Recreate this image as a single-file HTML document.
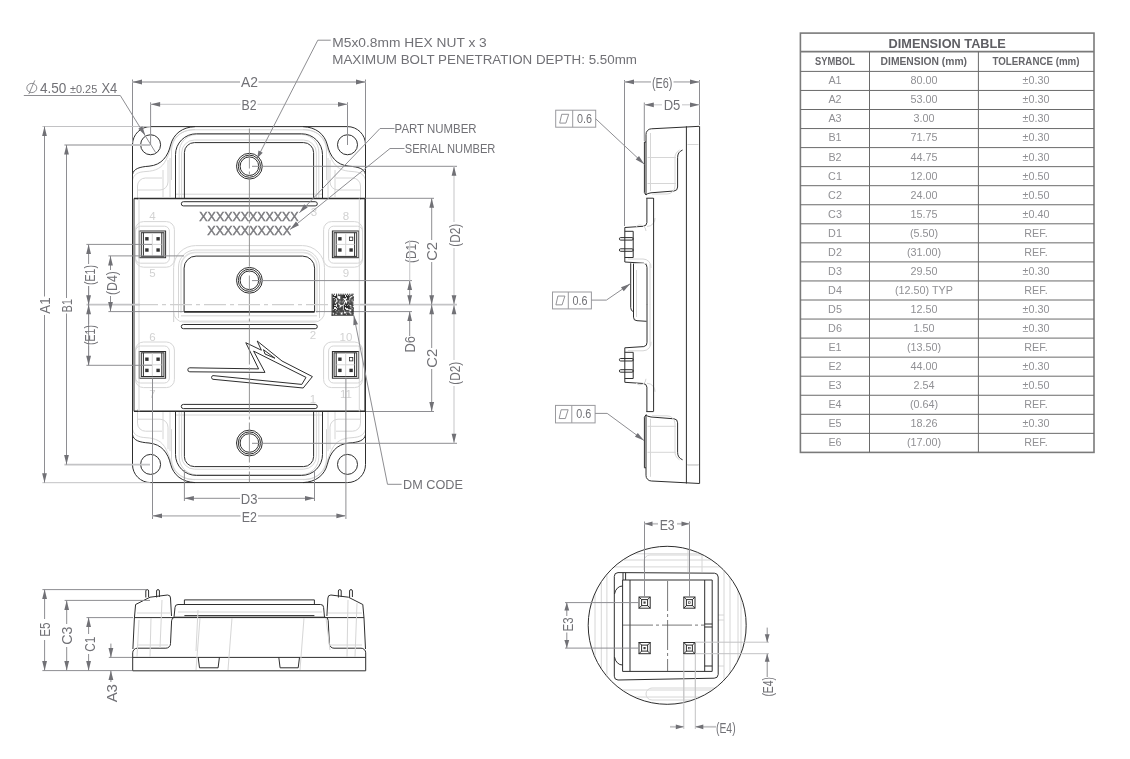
<!DOCTYPE html>
<html><head><meta charset="utf-8"><title>Drawing</title><style>
html,body{margin:0;padding:0;background:#fff;}
body{width:1130px;height:759px;overflow:hidden;}
svg{display:block;will-change:transform;}
text{font-family:"Liberation Sans",sans-serif;}
.k{fill:none;stroke:#2e2e2e;stroke-width:1;}
.k2{fill:none;stroke:#2e2e2e;stroke-width:1.6;}
.l{fill:none;stroke:#d6d6d6;stroke-width:1;}
.l2{fill:none;stroke:#e2e2e2;stroke-width:1.5;}
.d{fill:none;stroke:#8e8e92;stroke-width:1;}
.e{fill:none;stroke:#c2c2c4;stroke-width:1;}
.d2{fill:none;stroke:#c4c4c6;stroke-width:1.8;}
.d3{fill:none;stroke:#cfcfd1;stroke-width:1.2;}
.cl{fill:none;stroke:#8a8a8a;stroke-width:0.9;stroke-dasharray:40 3 3 3;}
.cl2{fill:none;stroke:#cfcfcf;stroke-width:1.4;stroke-dasharray:22 4 4 4;}
.cld{fill:none;stroke:#555;stroke-width:0.8;stroke-dasharray:30 3 3 3;}
.ar{fill:#717176;stroke:none;}
.t{fill:#717176;}
.pn{fill:#d2d2d2;}
.tx{fill:#7a7a7e;stroke:#7a7a7e;stroke-width:0.45;}
.fb{fill:none;stroke:#9a9a9e;stroke-width:1;}
.fsym{fill:none;stroke:#88888c;stroke-width:0.9;}
.tb{fill:none;stroke:#6a6a6a;stroke-width:1;}
.tb2{fill:none;stroke:#7a7a7a;stroke-width:1.6;}
.th{fill:#5f5f64;font-weight:bold;}
.th2{fill:#66666a;font-weight:bold;}
.tr{fill:#909094;}
</style></head>
<body><svg width="1130" height="759" viewBox="0 0 1130 759">
<rect x="0" y="0" width="1130" height="759" fill="#fff"/>
<path class="l" d="M132.5,180 C134,174 138,172 146,171.5 C156,171 162,168 166,160 C169,154 170,150 172,144 C175,136 182,130 195,129.5"/><path class="l" d="M137.5,200 V186 A8,8 0 0 1 145.5,178 H162 M137.5,186"/><path class="l" d="M163,197 V170 M170,197 V158"/><path class="l" d="M137,190 H160 A8 8 0 0 0 168,182 V160"/><path class="k" d="M195,126.6 C182,127.2 173.5,134 170.6,145 C168,156 162,165 149,166.2 C140,166.8 133.5,168.5 132.5,174.5"/><path class="l" d="M179.2,198 V152 A17.5,17.5 0 0 1 196.7,134.5 H249"/><path class="l" d="M181.6,198 V153 A13,13 0 0 1 194.6,140 H249"/><path class="l" d="M171.5,180 V150 A21,21 0 0 1 192.5,129.8 H249"/><path class="l" d="M176,194.2 H249"/><path class="k" d="M175.5,198.2 V154.6 A20.8,20.8 0 0 1 196.3,133.8 H249"/><path class="k" d="M184.4,198.2 V152.6 A10,10 0 0 1 194.4,142.6 H249"/><rect class="l" x="135.5" y="221.6" width="38.9" height="45.6" rx="8"/><rect class="l" x="135.5" y="226.2" width="33.9" height="37" rx="5"/><rect class="k" x="139.2" y="231" width="26.4" height="26.7"/><rect class="k" x="141.3" y="232.7" width="22.6" height="23.7"/><path class="k" d="M143.4,232.7 V256.4 M161.8,232.7 V256.4"/><path class="l" stroke="#bbb" d="M152.3,233 V256 M143.5,244.4 H161.5"/><rect x="145.2" y="237.1" width="3.4" height="3.4" fill="#333"/><rect x="145.2" y="248.3" width="3.4" height="3.4" fill="#333"/><rect x="156.4" y="237.1" width="3.4" height="3.4" fill="#333"/><rect x="156.4" y="248.3" width="3.4" height="3.4" fill="#333"/>
<g transform="translate(498,0) scale(-1,1)"><path class="l" d="M132.5,180 C134,174 138,172 146,171.5 C156,171 162,168 166,160 C169,154 170,150 172,144 C175,136 182,130 195,129.5"/><path class="l" d="M137.5,200 V186 A8,8 0 0 1 145.5,178 H162 M137.5,186"/><path class="l" d="M163,197 V170 M170,197 V158"/><path class="l" d="M137,190 H160 A8 8 0 0 0 168,182 V160"/><path class="k" d="M195,126.6 C182,127.2 173.5,134 170.6,145 C168,156 162,165 149,166.2 C140,166.8 133.5,168.5 132.5,174.5"/><path class="l" d="M179.2,198 V152 A17.5,17.5 0 0 1 196.7,134.5 H249"/><path class="l" d="M181.6,198 V153 A13,13 0 0 1 194.6,140 H249"/><path class="l" d="M171.5,180 V150 A21,21 0 0 1 192.5,129.8 H249"/><path class="l" d="M176,194.2 H249"/><path class="k" d="M175.5,198.2 V154.6 A20.8,20.8 0 0 1 196.3,133.8 H249"/><path class="k" d="M184.4,198.2 V152.6 A10,10 0 0 1 194.4,142.6 H249"/><rect class="l" x="135.5" y="221.6" width="38.9" height="45.6" rx="8"/><rect class="l" x="135.5" y="226.2" width="33.9" height="37" rx="5"/><rect class="k" x="139.2" y="231" width="26.4" height="26.7"/><rect class="k" x="141.3" y="232.7" width="22.6" height="23.7"/><path class="k" d="M143.4,232.7 V256.4 M161.8,232.7 V256.4"/><path class="l" stroke="#bbb" d="M152.3,233 V256 M143.5,244.4 H161.5"/><rect x="145.2" y="237.1" width="3.4" height="3.4" fill="#333"/><rect x="145.2" y="248.3" width="3.4" height="3.4" fill="#333"/><rect x="156.4" y="237.1" width="3.4" height="3.4" fill="#333"/><rect x="156.4" y="248.3" width="3.4" height="3.4" fill="#333"/></g>
<g transform="translate(0,609.2) scale(1,-1)"><path class="l" d="M132.5,180 C134,174 138,172 146,171.5 C156,171 162,168 166,160 C169,154 170,150 172,144 C175,136 182,130 195,129.5"/><path class="l" d="M137.5,200 V186 A8,8 0 0 1 145.5,178 H162 M137.5,186"/><path class="l" d="M163,197 V170 M170,197 V158"/><path class="l" d="M137,190 H160 A8 8 0 0 0 168,182 V160"/><path class="k" d="M195,126.6 C182,127.2 173.5,134 170.6,145 C168,156 162,165 149,166.2 C140,166.8 133.5,168.5 132.5,174.5"/><path class="l" d="M179.2,198 V152 A17.5,17.5 0 0 1 196.7,134.5 H249"/><path class="l" d="M181.6,198 V153 A13,13 0 0 1 194.6,140 H249"/><path class="l" d="M171.5,180 V150 A21,21 0 0 1 192.5,129.8 H249"/><path class="l" d="M176,194.2 H249"/><path class="k" d="M175.5,198.2 V154.6 A20.8,20.8 0 0 1 196.3,133.8 H249"/><path class="k" d="M184.4,198.2 V152.6 A10,10 0 0 1 194.4,142.6 H249"/><rect class="l" x="135.5" y="221.6" width="38.9" height="45.6" rx="8"/><rect class="l" x="135.5" y="226.2" width="33.9" height="37" rx="5"/><rect class="k" x="139.2" y="231" width="26.4" height="26.7"/><rect class="k" x="141.3" y="232.7" width="22.6" height="23.7"/><path class="k" d="M143.4,232.7 V256.4 M161.8,232.7 V256.4"/><path class="l" stroke="#bbb" d="M152.3,233 V256 M143.5,244.4 H161.5"/><rect x="145.2" y="237.1" width="3.4" height="3.4" fill="#333"/><rect x="145.2" y="248.3" width="3.4" height="3.4" fill="#333"/><rect x="156.4" y="237.1" width="3.4" height="3.4" fill="#333"/><rect x="156.4" y="248.3" width="3.4" height="3.4" fill="#333"/></g>
<g transform="translate(0,609.2) scale(1,-1)"><g transform="translate(498,0) scale(-1,1)"><path class="l" d="M132.5,180 C134,174 138,172 146,171.5 C156,171 162,168 166,160 C169,154 170,150 172,144 C175,136 182,130 195,129.5"/><path class="l" d="M137.5,200 V186 A8,8 0 0 1 145.5,178 H162 M137.5,186"/><path class="l" d="M163,197 V170 M170,197 V158"/><path class="l" d="M137,190 H160 A8 8 0 0 0 168,182 V160"/><path class="k" d="M195,126.6 C182,127.2 173.5,134 170.6,145 C168,156 162,165 149,166.2 C140,166.8 133.5,168.5 132.5,174.5"/><path class="l" d="M179.2,198 V152 A17.5,17.5 0 0 1 196.7,134.5 H249"/><path class="l" d="M181.6,198 V153 A13,13 0 0 1 194.6,140 H249"/><path class="l" d="M171.5,180 V150 A21,21 0 0 1 192.5,129.8 H249"/><path class="l" d="M176,194.2 H249"/><path class="k" d="M175.5,198.2 V154.6 A20.8,20.8 0 0 1 196.3,133.8 H249"/><path class="k" d="M184.4,198.2 V152.6 A10,10 0 0 1 194.4,142.6 H249"/><rect class="l" x="135.5" y="221.6" width="38.9" height="45.6" rx="8"/><rect class="l" x="135.5" y="226.2" width="33.9" height="37" rx="5"/><rect class="k" x="139.2" y="231" width="26.4" height="26.7"/><rect class="k" x="141.3" y="232.7" width="22.6" height="23.7"/><path class="k" d="M143.4,232.7 V256.4 M161.8,232.7 V256.4"/><path class="l" stroke="#bbb" d="M152.3,233 V256 M143.5,244.4 H161.5"/><rect x="145.2" y="237.1" width="3.4" height="3.4" fill="#333"/><rect x="145.2" y="248.3" width="3.4" height="3.4" fill="#333"/><rect x="156.4" y="237.1" width="3.4" height="3.4" fill="#333"/><rect x="156.4" y="248.3" width="3.4" height="3.4" fill="#333"/></g></g>
<path class="k" d="M150.6,126.6 H347.5 A18,18 0 0 1 365.5,144.6 V464.6 A18,18 0 0 1 347.5,482.6 H150.6 A18,18 0 0 1 132.5,464.6 V144.6 A18,18 0 0 1 150.6,126.6 Z"/>
<circle class="k" cx="150.6" cy="144.75" r="10"/>
<circle class="k" cx="347.5" cy="144.75" r="10"/>
<circle class="k" cx="150.6" cy="464.4" r="10"/>
<circle class="k" cx="347.5" cy="464.4" r="10"/>
<path class="k2" d="M134,198.5 H365.3 M134,411.3 H365.3"/>
<path class="k" d="M134,198.5 V411.3"/>
<path class="k2" d="M365.2,198.5 V411.3"/>
<path class="l" d="M359.3,198.5 V411.3 M139,198.5 V411.3"/>
<path class="l" d="M173.6,322 V267.6 A22,22 0 0 1 195.6,245.6 H302.5 A22,22 0 0 1 324.5,267.6 V312 A10,10 0 0 1 314.5,322 H183.6 A10,10 0 0 1 173.6,312 Z"/>
<path class="l" d="M178.5,318 V267 A17,17 0 0 1 195.5,250 H302.5 A17,17 0 0 1 319.5,267 V318"/>
<path class="l2" d="M181,313 V266 A14,14 0 0 1 195,252.6 H303 A14,14 0 0 1 317,266 V313 M181,315.7 H317 M181,321.3 H317"/>
<path class="k" d="M184.1,311.9 V268.1 A12,12 0 0 1 196.1,256.1 H302.6 A12,12 0 0 1 314.6,268.1 V311.9"/>
<path class="k2" d="M184.1,311.9 H314.6"/>
<circle class="k" cx="249.4" cy="166.2" r="12.9" stroke-width="0.9"/>
<circle class="k" cx="249.4" cy="166.2" r="11.1" stroke-width="0.9"/>
<circle class="k" cx="249.4" cy="166.2" r="9.3" stroke-width="1.3"/>
<path d="M239.2,166.2 A10.2,10.2 0 0 1 249.4,156" fill="none" stroke="#888" stroke-width="1" stroke-dasharray="0.6 1.2"/>
<circle class="k" cx="249.4" cy="280.3" r="12.9" stroke-width="0.9"/>
<circle class="k" cx="249.4" cy="280.3" r="11.1" stroke-width="0.9"/>
<circle class="k" cx="249.4" cy="280.3" r="9.3" stroke-width="1.3"/>
<path d="M239.2,280.3 A10.2,10.2 0 0 1 249.4,270.1" fill="none" stroke="#888" stroke-width="1" stroke-dasharray="0.6 1.2"/>
<circle class="k" cx="249.4" cy="443.0" r="12.9" stroke-width="0.9"/>
<circle class="k" cx="249.4" cy="443.0" r="11.1" stroke-width="0.9"/>
<circle class="k" cx="249.4" cy="443.0" r="9.3" stroke-width="1.3"/>
<path d="M239.2,443 A10.2,10.2 0 0 1 249.4,432.8" fill="none" stroke="#888" stroke-width="1" stroke-dasharray="0.6 1.2"/>
<rect class="k" x="181.3" y="201.7" width="136" height="4.2" rx="2.1"/>
<rect class="k" x="181.3" y="324.5" width="136" height="4.2" rx="2.1"/>
<rect class="k" x="181.3" y="404.4" width="136" height="4.2" rx="2.1"/>
<rect x="349.4" y="237.1" width="3.4" height="3.4" fill="#fff" stroke="#333" stroke-width="0.8"/>
<rect x="349.4" y="357.5" width="3.4" height="3.4" fill="#fff" stroke="#333" stroke-width="0.8"/>
<path class="k" d="M189.8,367.8 L258.6,368.9 L245.8,342.7 L261.4,350.2 L257.2,341 L282,361 L312.4,376.6 L303.2,388 L213,379.3 A1.9,1.9 0 0 1 213,375.6 L301.8,384.4 L306,377.4 L253.6,351.1 L265,372.4 L189.8,371.8 A2,2 0 0 1 189.8,367.8 Z"/>
<path class="k" d="M263.5,349.7 L274.9,358.2 L265,354 Z"/>
<text x="152.5" y="220" font-size="11.5" text-anchor="middle" class="pn">4</text>
<text x="152.5" y="277" font-size="11.5" text-anchor="middle" class="pn">5</text>
<text x="152.5" y="340.5" font-size="11.5" text-anchor="middle" class="pn">6</text>
<text x="152.5" y="398" font-size="11.5" text-anchor="middle" class="pn">7</text>
<text x="345.9" y="220" font-size="11.5" text-anchor="middle" class="pn">8</text>
<text x="345.9" y="277" font-size="11.5" text-anchor="middle" class="pn">9</text>
<text x="345.9" y="340.5" font-size="11.5" text-anchor="middle" class="pn">10</text>
<text x="345.9" y="398" font-size="11.5" text-anchor="middle" class="pn">11</text>
<text x="314" y="216" font-size="11.5" text-anchor="middle" class="pn">3</text>
<text x="313" y="339" font-size="11.5" text-anchor="middle" class="pn">2</text>
<text x="313" y="402.5" font-size="11.5" text-anchor="middle" class="pn">1</text>
<text x="249" y="220.8" font-size="12.4" text-anchor="middle" class="tx" textLength="99.3" lengthAdjust="spacingAndGlyphs">XXXXXXXXXXXX</text>
<text x="249.2" y="234.5" font-size="12.4" text-anchor="middle" class="tx" textLength="83.7" lengthAdjust="spacingAndGlyphs">XXXXXXXXXX</text>
<path class="cl" d="M249.4,128.5 V482.5"/>
<path class="cl2" d="M136,304.6 H360"/>
<line x1="132.5" y1="79.5" x2="132.5" y2="143" class="d" />
<line x1="365.5" y1="79.5" x2="365.5" y2="143" class="d" />
<line x1="132.5" y1="82" x2="240" y2="82" class="d2" />
<line x1="258.5" y1="82" x2="365.5" y2="82" class="d2" />
<polygon points="132.5,82 142,79.6 142,84.4" class="ar"/>
<polygon points="365.5,82 356,84.4 356,79.6" class="ar"/>
<text x="249.5" y="86.9" font-size="14.2" text-anchor="middle" class="t" textLength="17" lengthAdjust="spacingAndGlyphs">A2</text>
<line x1="150.6" y1="102.3" x2="150.6" y2="145" class="d" />
<line x1="347.5" y1="102.3" x2="347.5" y2="145" class="d" />
<line x1="150.6" y1="104.3" x2="240.5" y2="104.3" class="d3" />
<line x1="257.5" y1="104.3" x2="347.5" y2="104.3" class="d3" />
<polygon points="150.6,104.3 160.1,101.9 160.1,106.7" class="ar"/>
<polygon points="347.5,104.3 338,106.7 338,101.9" class="ar"/>
<text x="249" y="110" font-size="14.2" text-anchor="middle" class="t" textLength="15" lengthAdjust="spacingAndGlyphs">B2</text>
<line x1="42.4" y1="126.5" x2="150" y2="126.5" class="e" />
<line x1="42.4" y1="482.7" x2="150" y2="482.7" class="e" />
<line x1="44.5" y1="126.5" x2="44.5" y2="296.5" class="d" />
<line x1="44.5" y1="315" x2="44.5" y2="482.7" class="d" />
<polygon points="44.5,126.5 46.9,136 42.1,136" class="ar"/>
<polygon points="44.5,482.7 42.1,473.2 46.9,473.2" class="ar"/>
<text x="50.2" y="305.6" font-size="14.2" text-anchor="middle" class="t" textLength="16.3" lengthAdjust="spacingAndGlyphs" transform="rotate(-90 50.2 305.6)">A1</text>
<line x1="64.4" y1="145" x2="150" y2="145" class="d2" />
<line x1="64.4" y1="464.6" x2="150" y2="464.6" class="d2" />
<line x1="66.5" y1="145" x2="66.5" y2="298" class="d" />
<line x1="66.5" y1="313.5" x2="66.5" y2="464.6" class="d" />
<polygon points="66.5,145 68.9,154.5 64.1,154.5" class="ar"/>
<polygon points="66.5,464.6 64.1,455.1 68.9,455.1" class="ar"/>
<text x="72" y="305.7" font-size="14.2" text-anchor="middle" class="t" textLength="13" lengthAdjust="spacingAndGlyphs" transform="rotate(-90 72 305.7)">B1</text>
<line x1="86.4" y1="244.4" x2="152" y2="244.4" class="d" />
<line x1="86.4" y1="365.3" x2="152" y2="365.3" class="d" />
<line x1="86.5" y1="304.7" x2="140" y2="304.7" class="d2" />
<line x1="88.6" y1="244.4" x2="88.6" y2="264" class="d" />
<line x1="88.6" y1="286" x2="88.6" y2="365.3" class="d" />
<line x1="88.6" y1="286" x2="88.6" y2="324" class="d" />
<line x1="88.6" y1="346" x2="88.6" y2="365.3" class="d" />
<polygon points="88.6,244.4 91,253.9 86.2,253.9" class="ar"/>
<polygon points="88.6,304.7 86.2,295.2 91,295.2" class="ar"/>
<polygon points="88.6,304.7 91,314.2 86.2,314.2" class="ar"/>
<polygon points="88.6,365.3 86.2,355.8 91,355.8" class="ar"/>
<text x="95.2" y="275" font-size="14" text-anchor="middle" class="t" textLength="20" lengthAdjust="spacingAndGlyphs" transform="rotate(-90 95.2 275)">(E1)</text>
<text x="95.2" y="335" font-size="14" text-anchor="middle" class="t" textLength="20" lengthAdjust="spacingAndGlyphs" transform="rotate(-90 95.2 335)">(E1)</text>
<line x1="108.4" y1="255.9" x2="184" y2="255.9" class="d" />
<line x1="108.4" y1="311.6" x2="184" y2="311.6" class="d" />
<line x1="110.5" y1="255.9" x2="110.5" y2="270" class="d" />
<line x1="110.5" y1="296" x2="110.5" y2="311.6" class="d" />
<polygon points="110.5,255.9 112.9,265.4 108.1,265.4" class="ar"/>
<polygon points="110.5,311.6 108.1,302.1 112.9,302.1" class="ar"/>
<text x="117.2" y="283" font-size="14" text-anchor="middle" class="t" textLength="24" lengthAdjust="spacingAndGlyphs" transform="rotate(-90 117.2 283)">(D4)</text>
<line x1="252" y1="166.3" x2="457" y2="166.3" class="d" />
<line x1="365.5" y1="198.3" x2="434" y2="198.3" class="d" />
<line x1="252" y1="280.6" x2="412" y2="280.6" class="d" />
<line x1="360" y1="304.7" x2="457" y2="304.7" class="d2" />
<line x1="316" y1="311.6" x2="412" y2="311.6" class="d" />
<line x1="366" y1="411.5" x2="434" y2="411.5" class="d" />
<line x1="252" y1="443.3" x2="457" y2="443.3" class="d" />
<line x1="409.7" y1="280.6" x2="409.7" y2="304.7" class="d" />
<polygon points="409.7,280.6 412.1,290.1 407.3,290.1" class="ar"/>
<polygon points="409.7,304.7 407.3,295.2 412.1,295.2" class="ar"/>
<text x="416.2" y="251.5" font-size="14" text-anchor="middle" class="t" textLength="23" lengthAdjust="spacingAndGlyphs" transform="rotate(-90 416.2 251.5)">(D1)</text>
<line x1="409.7" y1="240" x2="409.7" y2="280.6" class="d3" />
<line x1="409.7" y1="311.5" x2="409.7" y2="336" class="d" />
<polygon points="409.7,311.5 412.1,321 407.3,321" class="ar"/>
<text x="415" y="344.3" font-size="14" text-anchor="middle" class="t" textLength="16.5" lengthAdjust="spacingAndGlyphs" transform="rotate(-90 415 344.3)">D6</text>
<line x1="431.7" y1="198.3" x2="431.7" y2="240" class="d" />
<line x1="431.7" y1="262" x2="431.7" y2="304.7" class="d" />
<line x1="431.7" y1="304.7" x2="431.7" y2="348" class="d" />
<line x1="431.7" y1="369" x2="431.7" y2="411.5" class="d" />
<polygon points="431.7,198.3 434.1,207.8 429.3,207.8" class="ar"/>
<polygon points="431.7,304.7 429.3,295.2 434.1,295.2" class="ar"/>
<polygon points="431.7,304.7 434.1,314.2 429.3,314.2" class="ar"/>
<polygon points="431.7,411.5 429.3,402 434.1,402" class="ar"/>
<text x="436.9" y="251.4" font-size="14" text-anchor="middle" class="t" textLength="18.8" lengthAdjust="spacingAndGlyphs" transform="rotate(-90 436.9 251.4)">C2</text>
<text x="436.9" y="358.3" font-size="14" text-anchor="middle" class="t" textLength="18.8" lengthAdjust="spacingAndGlyphs" transform="rotate(-90 436.9 358.3)">C2</text>
<line x1="454" y1="166.3" x2="454" y2="222" class="d3" />
<line x1="454" y1="248" x2="454" y2="304.7" class="d3" />
<line x1="454" y1="304.7" x2="454" y2="360" class="d3" />
<line x1="454" y1="386" x2="454" y2="443.3" class="d3" />
<polygon points="454,166.3 456.4,175.8 451.6,175.8" class="ar"/>
<polygon points="454,304.7 451.6,295.2 456.4,295.2" class="ar"/>
<polygon points="454,304.7 456.4,314.2 451.6,314.2" class="ar"/>
<polygon points="454,443.3 451.6,433.8 456.4,433.8" class="ar"/>
<text x="460.3" y="235.3" font-size="14" text-anchor="middle" class="t" textLength="23" lengthAdjust="spacingAndGlyphs" transform="rotate(-90 460.3 235.3)">(D2)</text>
<text x="460.3" y="373.2" font-size="14" text-anchor="middle" class="t" textLength="23" lengthAdjust="spacingAndGlyphs" transform="rotate(-90 460.3 373.2)">(D2)</text>
<line x1="184.4" y1="470" x2="184.4" y2="501" class="d" />
<line x1="314.5" y1="470" x2="314.5" y2="501" class="d" />
<line x1="184.4" y1="498.3" x2="240" y2="498.3" class="d" />
<line x1="258" y1="498.3" x2="314.5" y2="498.3" class="d" />
<polygon points="184.4,498.3 193.9,495.9 193.9,500.7" class="ar"/>
<polygon points="314.5,498.3 305,500.7 305,495.9" class="ar"/>
<text x="249.2" y="503.8" font-size="14.2" text-anchor="middle" class="t" textLength="16.7" lengthAdjust="spacingAndGlyphs">D3</text>
<line x1="152.5" y1="378.5" x2="152.5" y2="519" class="d" />
<line x1="345.9" y1="378.5" x2="345.9" y2="519" class="d" />
<line x1="152.5" y1="515.8" x2="240.5" y2="515.8" class="d2" />
<line x1="258" y1="515.8" x2="345.9" y2="515.8" class="d2" />
<polygon points="152.5,515.8 162,513.4 162,518.2" class="ar"/>
<polygon points="345.9,515.8 336.4,518.2 336.4,513.4" class="ar"/>
<text x="249.4" y="521.8" font-size="14.2" text-anchor="middle" class="t" textLength="15.2" lengthAdjust="spacingAndGlyphs">E2</text>
<path class="d" d="M23.8,95.5 H120.3 L155.6,152.5"/>
<polygon points="145.3,135.5 138.28,128.67 142.37,126.15" class="ar"/>
<ellipse cx="31.8" cy="88" rx="5" ry="4.6" fill="none" stroke="#808085" stroke-width="0.9"/>
<path d="M28.8,94.1 L34.8,80.4" stroke="#808085" stroke-width="0.9"/>
<text x="40" y="93" font-size="14" text-anchor="start" class="t" textLength="26.4" lengthAdjust="spacingAndGlyphs">4.50</text>
<text x="70" y="93" font-size="10.5" text-anchor="start" class="t" textLength="27.2" lengthAdjust="spacingAndGlyphs">±0.25</text>
<text x="101.5" y="93" font-size="14" text-anchor="start" class="t" textLength="15.8" lengthAdjust="spacingAndGlyphs">X4</text>
<path class="d" d="M330.7,40.2 H317.8 L257.2,158.3"/>
<polygon points="257.2,158.3 258.49,150.53 262.76,152.73" class="ar"/>
<text x="332.3" y="46.8" font-size="13.6" text-anchor="start" class="t" textLength="154.5" lengthAdjust="spacingAndGlyphs">M5x0.8mm HEX NUT x 3</text>
<text x="332.3" y="63.8" font-size="13.6" text-anchor="start" class="t" textLength="304.7" lengthAdjust="spacingAndGlyphs">MAXIMUM BOLT PENETRATION DEPTH: 5.50mm</text>
<path class="d" d="M394.5,128.5 H380 L299.4,212.8"/>
<polygon points="299.4,212.8 304.2,204.26 307.68,207.56" class="ar"/>
<text x="394.6" y="133" font-size="13" text-anchor="start" class="t" textLength="82" lengthAdjust="spacingAndGlyphs">PART NUMBER</text>
<path class="d" d="M404.5,148.5 H390 L290.1,229.4"/>
<polygon points="290.1,229.4 295.95,221.54 298.98,225.26" class="ar"/>
<text x="404.7" y="153" font-size="13" text-anchor="start" class="t" textLength="90.7" lengthAdjust="spacingAndGlyphs">SERIAL NUMBER</text>
<path class="d" d="M401.6,484.3 H387.5 L353.8,315.4"/>
<polygon points="353.8,315.4 358.01,324.25 353.31,325.19" class="ar"/>
<text x="403.1" y="488.7" font-size="12.8" text-anchor="start" class="t" textLength="59.9" lengthAdjust="spacingAndGlyphs">DM CODE</text>
<g fill="#2a2a2a"><rect x="331.6" y="293.7" width="1.1" height="22"/><rect x="331.6" y="314.6" width="22" height="1.1"/><rect x="332.7" y="294.8" width="1.3" height="1.3"/><rect x="332.7" y="295.9" width="1.3" height="1.3"/><rect x="332.7" y="298.1" width="1.3" height="1.3"/><rect x="332.7" y="299.2" width="1.3" height="1.3"/><rect x="332.7" y="300.3" width="1.3" height="1.3"/><rect x="332.7" y="301.4" width="1.3" height="1.3"/><rect x="332.7" y="302.5" width="1.3" height="1.3"/><rect x="332.7" y="303.6" width="1.3" height="1.3"/><rect x="332.7" y="304.7" width="1.3" height="1.3"/><rect x="332.7" y="305.8" width="1.3" height="1.3"/><rect x="332.7" y="306.9" width="1.3" height="1.3"/><rect x="332.7" y="308" width="1.3" height="1.3"/><rect x="332.7" y="310.2" width="1.3" height="1.3"/><rect x="332.7" y="311.3" width="1.3" height="1.3"/><rect x="333.8" y="293.7" width="1.1" height="1.1"/><rect x="333.8" y="295.9" width="1.3" height="1.3"/><rect x="333.8" y="298.1" width="1.3" height="1.3"/><rect x="333.8" y="300.3" width="1.3" height="1.3"/><rect x="333.8" y="301.4" width="1.3" height="1.3"/><rect x="333.8" y="302.5" width="1.3" height="1.3"/><rect x="333.8" y="303.6" width="1.3" height="1.3"/><rect x="333.8" y="305.8" width="1.3" height="1.3"/><rect x="333.8" y="309.1" width="1.3" height="1.3"/><rect x="333.8" y="310.2" width="1.3" height="1.3"/><rect x="333.8" y="311.3" width="1.3" height="1.3"/><rect x="333.8" y="312.4" width="1.3" height="1.3"/><rect x="333.8" y="313.5" width="1.3" height="1.3"/><rect x="334.9" y="295.9" width="1.3" height="1.3"/><rect x="334.9" y="297" width="1.3" height="1.3"/><rect x="334.9" y="299.2" width="1.3" height="1.3"/><rect x="334.9" y="300.3" width="1.3" height="1.3"/><rect x="334.9" y="303.6" width="1.3" height="1.3"/><rect x="334.9" y="305.8" width="1.3" height="1.3"/><rect x="334.9" y="309.1" width="1.3" height="1.3"/><rect x="334.9" y="311.3" width="1.3" height="1.3"/><rect x="334.9" y="312.4" width="1.3" height="1.3"/><rect x="336" y="293.7" width="1.1" height="1.1"/><rect x="336" y="294.8" width="1.3" height="1.3"/><rect x="336" y="295.9" width="1.3" height="1.3"/><rect x="336" y="297" width="1.3" height="1.3"/><rect x="336" y="302.5" width="1.3" height="1.3"/><rect x="336" y="306.9" width="1.3" height="1.3"/><rect x="336" y="310.2" width="1.3" height="1.3"/><rect x="336" y="312.4" width="1.3" height="1.3"/><rect x="337.1" y="298.1" width="1.3" height="1.3"/><rect x="337.1" y="299.2" width="1.3" height="1.3"/><rect x="337.1" y="301.4" width="1.3" height="1.3"/><rect x="337.1" y="302.5" width="1.3" height="1.3"/><rect x="337.1" y="303.6" width="1.3" height="1.3"/><rect x="337.1" y="304.7" width="1.3" height="1.3"/><rect x="337.1" y="305.8" width="1.3" height="1.3"/><rect x="337.1" y="308" width="1.3" height="1.3"/><rect x="337.1" y="309.1" width="1.3" height="1.3"/><rect x="337.1" y="310.2" width="1.3" height="1.3"/><rect x="337.1" y="312.4" width="1.3" height="1.3"/><rect x="337.1" y="313.5" width="1.3" height="1.3"/><rect x="338.2" y="293.7" width="1.1" height="1.1"/><rect x="338.2" y="294.8" width="1.3" height="1.3"/><rect x="338.2" y="299.2" width="1.3" height="1.3"/><rect x="338.2" y="300.3" width="1.3" height="1.3"/><rect x="338.2" y="301.4" width="1.3" height="1.3"/><rect x="338.2" y="304.7" width="1.3" height="1.3"/><rect x="338.2" y="305.8" width="1.3" height="1.3"/><rect x="338.2" y="306.9" width="1.3" height="1.3"/><rect x="338.2" y="308" width="1.3" height="1.3"/><rect x="338.2" y="309.1" width="1.3" height="1.3"/><rect x="338.2" y="311.3" width="1.3" height="1.3"/><rect x="338.2" y="312.4" width="1.3" height="1.3"/><rect x="338.2" y="313.5" width="1.3" height="1.3"/><rect x="339.3" y="294.8" width="1.3" height="1.3"/><rect x="339.3" y="299.2" width="1.3" height="1.3"/><rect x="339.3" y="302.5" width="1.3" height="1.3"/><rect x="339.3" y="308" width="1.3" height="1.3"/><rect x="339.3" y="309.1" width="1.3" height="1.3"/><rect x="339.3" y="310.2" width="1.3" height="1.3"/><rect x="339.3" y="312.4" width="1.3" height="1.3"/><rect x="339.3" y="313.5" width="1.3" height="1.3"/><rect x="340.4" y="293.7" width="1.1" height="1.1"/><rect x="340.4" y="294.8" width="1.3" height="1.3"/><rect x="340.4" y="295.9" width="1.3" height="1.3"/><rect x="340.4" y="297" width="1.3" height="1.3"/><rect x="340.4" y="298.1" width="1.3" height="1.3"/><rect x="340.4" y="299.2" width="1.3" height="1.3"/><rect x="340.4" y="300.3" width="1.3" height="1.3"/><rect x="340.4" y="301.4" width="1.3" height="1.3"/><rect x="340.4" y="302.5" width="1.3" height="1.3"/><rect x="340.4" y="303.6" width="1.3" height="1.3"/><rect x="340.4" y="306.9" width="1.3" height="1.3"/><rect x="340.4" y="308" width="1.3" height="1.3"/><rect x="340.4" y="309.1" width="1.3" height="1.3"/><rect x="340.4" y="310.2" width="1.3" height="1.3"/><rect x="340.4" y="311.3" width="1.3" height="1.3"/><rect x="341.5" y="294.8" width="1.3" height="1.3"/><rect x="341.5" y="295.9" width="1.3" height="1.3"/><rect x="341.5" y="297" width="1.3" height="1.3"/><rect x="341.5" y="298.1" width="1.3" height="1.3"/><rect x="341.5" y="299.2" width="1.3" height="1.3"/><rect x="341.5" y="300.3" width="1.3" height="1.3"/><rect x="341.5" y="302.5" width="1.3" height="1.3"/><rect x="341.5" y="303.6" width="1.3" height="1.3"/><rect x="341.5" y="305.8" width="1.3" height="1.3"/><rect x="341.5" y="306.9" width="1.3" height="1.3"/><rect x="341.5" y="308" width="1.3" height="1.3"/><rect x="341.5" y="309.1" width="1.3" height="1.3"/><rect x="341.5" y="310.2" width="1.3" height="1.3"/><rect x="342.6" y="293.7" width="1.1" height="1.1"/><rect x="342.6" y="294.8" width="1.3" height="1.3"/><rect x="342.6" y="295.9" width="1.3" height="1.3"/><rect x="342.6" y="297" width="1.3" height="1.3"/><rect x="342.6" y="299.2" width="1.3" height="1.3"/><rect x="342.6" y="301.4" width="1.3" height="1.3"/><rect x="342.6" y="302.5" width="1.3" height="1.3"/><rect x="342.6" y="310.2" width="1.3" height="1.3"/><rect x="342.6" y="311.3" width="1.3" height="1.3"/><rect x="342.6" y="312.4" width="1.3" height="1.3"/><rect x="342.6" y="313.5" width="1.3" height="1.3"/><rect x="343.7" y="294.8" width="1.3" height="1.3"/><rect x="343.7" y="295.9" width="1.3" height="1.3"/><rect x="343.7" y="297" width="1.3" height="1.3"/><rect x="343.7" y="300.3" width="1.3" height="1.3"/><rect x="343.7" y="304.7" width="1.3" height="1.3"/><rect x="343.7" y="305.8" width="1.3" height="1.3"/><rect x="343.7" y="306.9" width="1.3" height="1.3"/><rect x="343.7" y="308" width="1.3" height="1.3"/><rect x="343.7" y="309.1" width="1.3" height="1.3"/><rect x="343.7" y="313.5" width="1.3" height="1.3"/><rect x="344.8" y="293.7" width="1.1" height="1.1"/><rect x="344.8" y="297" width="1.3" height="1.3"/><rect x="344.8" y="302.5" width="1.3" height="1.3"/><rect x="344.8" y="303.6" width="1.3" height="1.3"/><rect x="344.8" y="305.8" width="1.3" height="1.3"/><rect x="344.8" y="309.1" width="1.3" height="1.3"/><rect x="344.8" y="310.2" width="1.3" height="1.3"/><rect x="344.8" y="313.5" width="1.3" height="1.3"/><rect x="345.9" y="294.8" width="1.3" height="1.3"/><rect x="345.9" y="295.9" width="1.3" height="1.3"/><rect x="345.9" y="299.2" width="1.3" height="1.3"/><rect x="345.9" y="303.6" width="1.3" height="1.3"/><rect x="345.9" y="304.7" width="1.3" height="1.3"/><rect x="345.9" y="305.8" width="1.3" height="1.3"/><rect x="345.9" y="306.9" width="1.3" height="1.3"/><rect x="345.9" y="310.2" width="1.3" height="1.3"/><rect x="345.9" y="312.4" width="1.3" height="1.3"/><rect x="347" y="293.7" width="1.1" height="1.1"/><rect x="347" y="295.9" width="1.3" height="1.3"/><rect x="347" y="297" width="1.3" height="1.3"/><rect x="347" y="298.1" width="1.3" height="1.3"/><rect x="347" y="299.2" width="1.3" height="1.3"/><rect x="347" y="301.4" width="1.3" height="1.3"/><rect x="347" y="302.5" width="1.3" height="1.3"/><rect x="347" y="303.6" width="1.3" height="1.3"/><rect x="347" y="305.8" width="1.3" height="1.3"/><rect x="347" y="306.9" width="1.3" height="1.3"/><rect x="347" y="310.2" width="1.3" height="1.3"/><rect x="347" y="312.4" width="1.3" height="1.3"/><rect x="347" y="313.5" width="1.3" height="1.3"/><rect x="348.1" y="294.8" width="1.3" height="1.3"/><rect x="348.1" y="295.9" width="1.3" height="1.3"/><rect x="348.1" y="297" width="1.3" height="1.3"/><rect x="348.1" y="298.1" width="1.3" height="1.3"/><rect x="348.1" y="299.2" width="1.3" height="1.3"/><rect x="348.1" y="301.4" width="1.3" height="1.3"/><rect x="348.1" y="302.5" width="1.3" height="1.3"/><rect x="348.1" y="304.7" width="1.3" height="1.3"/><rect x="348.1" y="305.8" width="1.3" height="1.3"/><rect x="348.1" y="306.9" width="1.3" height="1.3"/><rect x="348.1" y="308" width="1.3" height="1.3"/><rect x="348.1" y="310.2" width="1.3" height="1.3"/><rect x="348.1" y="312.4" width="1.3" height="1.3"/><rect x="348.1" y="313.5" width="1.3" height="1.3"/><rect x="349.2" y="293.7" width="1.1" height="1.1"/><rect x="349.2" y="295.9" width="1.3" height="1.3"/><rect x="349.2" y="300.3" width="1.3" height="1.3"/><rect x="349.2" y="302.5" width="1.3" height="1.3"/><rect x="349.2" y="303.6" width="1.3" height="1.3"/><rect x="349.2" y="305.8" width="1.3" height="1.3"/><rect x="349.2" y="306.9" width="1.3" height="1.3"/><rect x="349.2" y="308" width="1.3" height="1.3"/><rect x="349.2" y="313.5" width="1.3" height="1.3"/><rect x="350.3" y="294.8" width="1.3" height="1.3"/><rect x="350.3" y="298.1" width="1.3" height="1.3"/><rect x="350.3" y="299.2" width="1.3" height="1.3"/><rect x="350.3" y="300.3" width="1.3" height="1.3"/><rect x="350.3" y="301.4" width="1.3" height="1.3"/><rect x="350.3" y="302.5" width="1.3" height="1.3"/><rect x="350.3" y="303.6" width="1.3" height="1.3"/><rect x="350.3" y="308" width="1.3" height="1.3"/><rect x="350.3" y="311.3" width="1.3" height="1.3"/><rect x="351.4" y="293.7" width="1.1" height="1.1"/><rect x="351.4" y="294.8" width="1.3" height="1.3"/><rect x="351.4" y="297" width="1.3" height="1.3"/><rect x="351.4" y="298.1" width="1.3" height="1.3"/><rect x="351.4" y="301.4" width="1.3" height="1.3"/><rect x="351.4" y="302.5" width="1.3" height="1.3"/><rect x="351.4" y="303.6" width="1.3" height="1.3"/><rect x="351.4" y="304.7" width="1.3" height="1.3"/><rect x="351.4" y="305.8" width="1.3" height="1.3"/><rect x="351.4" y="306.9" width="1.3" height="1.3"/><rect x="351.4" y="309.1" width="1.3" height="1.3"/><rect x="351.4" y="310.2" width="1.3" height="1.3"/><rect x="351.4" y="311.3" width="1.3" height="1.3"/><rect x="351.4" y="312.4" width="1.3" height="1.3"/><rect x="351.4" y="313.5" width="1.3" height="1.3"/><rect x="352.5" y="293.7" width="1.1" height="1.1"/><rect x="352.5" y="295.9" width="1.1" height="1.1"/><rect x="352.5" y="297" width="1.3" height="1.3"/><rect x="352.5" y="298.1" width="1.1" height="1.1"/><rect x="352.5" y="299.2" width="1.3" height="1.3"/><rect x="352.5" y="300.3" width="1.1" height="1.1"/><rect x="352.5" y="302.5" width="1.1" height="1.1"/><rect x="352.5" y="304.7" width="1.1" height="1.1"/><rect x="352.5" y="306.9" width="1.1" height="1.1"/><rect x="352.5" y="308" width="1.3" height="1.3"/><rect x="352.5" y="309.1" width="1.1" height="1.1"/><rect x="352.5" y="310.2" width="1.3" height="1.3"/><rect x="352.5" y="311.3" width="1.1" height="1.1"/><rect x="352.5" y="312.4" width="1.3" height="1.3"/><rect x="352.5" y="313.5" width="1.1" height="1.1"/></g>
<path class="k" d="M699.5,126.3 L651.3,128.8 A5.5,5.5 0 0 0 646,134.5 V195 Q647,193.3 651,192.8 L674,191 A4,4 0 0 0 677.6,187 V157.5 A8,8 0 0 1 682.6,150"/><path class="k" d="M644.4,142 H646 M644.4,142 V192.6 L646,195"/><path class="l" d="M650.5,133 V191 M687.5,144.5 H698.5 M647.5,157.5 H676 M647.5,183.5 H676 M679.5,150 A10 10 0 0 0 675,160 V186 A8,8 0 0 1 667,194 H652"/><path class="k" d="M646.3,198.2 H653.4 M646.9,198.2 V222.6 A4,4 0 0 1 643.2,226.3 L624.8,227.5 V262 L643.8,263.2 A4,4 0 0 1 647,267.5 V305"/><path class="k" d="M633.2,231.3 V257.5 M624.8,231.3 H633.2 M624.8,257.5 H633.2"/><path class="l" d="M647,226.5 A8,8 0 0 0 655,218 M636,226.5 A6 6 0 0 1 646,231 M651,268 A8 8 0 0 0 643,259 H628 M650,264 V305"/><rect class="k" x="619.4" y="237.6" width="13.8" height="2.5" rx="1.2"/><rect class="k" x="619.4" y="248.8" width="13.8" height="2.5" rx="1.2"/>
<g transform="translate(0,609.8) scale(1,-1)"><path class="k" d="M699.5,126.3 L651.3,128.8 A5.5,5.5 0 0 0 646,134.5 V195 Q647,193.3 651,192.8 L674,191 A4,4 0 0 0 677.6,187 V157.5 A8,8 0 0 1 682.6,150"/><path class="k" d="M644.4,142 H646 M644.4,142 V192.6 L646,195"/><path class="l" d="M650.5,133 V191 M687.5,144.5 H698.5 M647.5,157.5 H676 M647.5,183.5 H676 M679.5,150 A10 10 0 0 0 675,160 V186 A8,8 0 0 1 667,194 H652"/><path class="k" d="M646.3,198.2 H653.4 M646.9,198.2 V222.6 A4,4 0 0 1 643.2,226.3 L624.8,227.5 V262 L643.8,263.2 A4,4 0 0 1 647,267.5 V305"/><path class="k" d="M633.2,231.3 V257.5 M624.8,231.3 H633.2 M624.8,257.5 H633.2"/><path class="l" d="M647,226.5 A8,8 0 0 0 655,218 M636,226.5 A6 6 0 0 1 646,231 M651,268 A8 8 0 0 0 643,259 H628 M650,264 V305"/><rect class="k" x="619.4" y="237.6" width="13.8" height="2.5" rx="1.2"/><rect class="k" x="619.4" y="248.8" width="13.8" height="2.5" rx="1.2"/></g>
<path class="k" d="M653.6,198 V411.5"/>
<path class="k" d="M630.7,263.2 V307.6 Q630.7,311 633.6,311.8 M633.5,263.2 V317.2 A3.5,3.5 0 0 0 637,320.7 L646.5,321.3"/>
<path class="l" d="M636.5,270 V317 M633.5,263.5 H647"/>
<path class="k" d="M686.4,126.3 V483.5 M699.6,126.3 V483.5"/>
<path class="l" d="M687,464.6 H699"/>
<rect class="fb" x="555.7" y="110.2" width="40" height="17"/>
<line class="fb" x1="572.7" y1="110.2" x2="572.7" y2="127.2"/>
<path class="fsym" d="M561.7,114.3 H568.7 L565.9,123.1 H559.7 Z"/>
<text x="584.4" y="122.9" font-size="12" text-anchor="middle" class="t" textLength="15" lengthAdjust="spacingAndGlyphs">0.6</text>
<path class="d" d="M595.7,118.8 L644.3,164.2"/>
<polygon points="644.3,164.2 635.72,159.48 638.99,155.97" class="ar"/>
<rect class="fb" x="552.5" y="292" width="38.9" height="16.9"/>
<line class="fb" x1="568.3" y1="292" x2="568.3" y2="308.9"/>
<path class="fsym" d="M557.9,296.05 H564.9 L562.1,304.85 H555.9 Z"/>
<text x="580.05" y="304.65" font-size="12" text-anchor="middle" class="t" textLength="15" lengthAdjust="spacingAndGlyphs">0.6</text>
<path class="d" d="M591.4,300.1 H606.4 L630.2,283.8"/>
<polygon points="630.2,283.8 623.72,291.15 621.01,287.19" class="ar"/>
<rect class="fb" x="555.5" y="405.4" width="39.6" height="17.5"/>
<line class="fb" x1="571.8" y1="405.4" x2="571.8" y2="422.9"/>
<path class="fsym" d="M561.15,409.75 H568.15 L565.35,418.55 H559.15 Z"/>
<text x="583.65" y="418.35" font-size="12" text-anchor="middle" class="t" textLength="15" lengthAdjust="spacingAndGlyphs">0.6</text>
<path class="d" d="M595.1,413.4 H607.2 L644,440.5"/>
<polygon points="644,440.5 634.93,436.79 637.78,432.93" class="ar"/>
<line x1="624.5" y1="80" x2="624.5" y2="226" class="d" />
<line x1="699.5" y1="80" x2="699.5" y2="125" class="d" />
<line x1="644.3" y1="102.5" x2="644.3" y2="141" class="d" />
<line x1="624.5" y1="81.9" x2="651" y2="81.9" class="d2" />
<line x1="673.5" y1="81.9" x2="699.5" y2="81.9" class="d2" />
<polygon points="624.5,81.9 634,79.5 634,84.3" class="ar"/>
<polygon points="699.5,81.9 690,84.3 690,79.5" class="ar"/>
<text x="662.2" y="88" font-size="14" text-anchor="middle" class="t" textLength="20.5" lengthAdjust="spacingAndGlyphs">(E6)</text>
<line x1="644.3" y1="104.8" x2="662" y2="104.8" class="d3" />
<line x1="682" y1="104.8" x2="699.5" y2="104.8" class="d3" />
<polygon points="644.3,104.8 653.8,102.4 653.8,107.2" class="ar"/>
<polygon points="699.5,104.8 690,107.2 690,102.4" class="ar"/>
<text x="672" y="109.8" font-size="14" text-anchor="middle" class="t" textLength="16.7" lengthAdjust="spacingAndGlyphs">D5</text>
<defs><clipPath id="dclip"><circle cx="667.2" cy="625.3" r="78.5"/></clipPath></defs>
<g clip-path="url(#dclip)"><path class="l" d="M595,546 V705 M601.3,546 V705 M606.9,546 V705 M724,546 V705 M730,546 V705 M738,546 V705 M746,546 V705"/><path class="l" d="M590,553.8 H746 M590,560 H746 M590,566.9 H746 M590,690 H746 M590,697 H746"/><path class="l" d="M650,555 H735 A6,6 0 0 1 741,561 V690 M650,555 A6 6 0 0 0 644,561 V570"/><path class="l" d="M652,688 H735 M652,700 H735 M652,688 A5 5 0 0 0 652,700"/><path class="l" d="M683.8,672 V705 M695.3,672 V705 M702,546 V572 M688,546 V572"/><path class="l" d="M718,615 H724 M718,620 H724 M718,666 H724"/></g>
<circle class="k" cx="667.2" cy="625.3" r="79" stroke="#555"/>
<path class="k" d="M618,572.6 L714.5,573.2 A4,4 0 0 1 718.2,577 V674.5 A4,4 0 0 1 714.2,678.2 L618,680 A3.8,3.8 0 0 1 614.3,676.2 V576.4 A3.8,3.8 0 0 1 618,572.6 Z"/>
<path class="k" d="M622.6,580 H712.2 V671.4 H622.6 Z M630,580 V671.4 M704.7,580 V671.4 M623,572.8 V580 M625.6,572.8 V580"/>
<path class="k" d="M614.5,594 A8,10 0 0 1 622.6,586 M614.5,657 A8,10 0 0 0 622.6,665 M704.7,624 H712.2 M704.7,627 H712.2 M704.7,666 H712.2"/>
<path class="cld" d="M667.6,581 V671 M623,625.1 H704"/>
<rect class="k" x="639" y="597" width="11.2" height="11.2"/>
<rect class="k" x="641.6" y="599.6" width="6" height="6"/>
<path class="k" d="M639,597 L641.6,599.6 M650.2,597 L647.6,599.6 M639,608.2 L641.6,605.6 M650.2,608.2 L647.6,605.6"/>
<rect x="643.8" y="601.8" width="1.6" height="1.6" fill="none" stroke="#333" stroke-width="0.6"/>
<rect class="k" x="683.8" y="597" width="11.2" height="11.2"/>
<rect class="k" x="686.4" y="599.6" width="6" height="6"/>
<path class="k" d="M683.8,597 L686.4,599.6 M695,597 L692.4,599.6 M683.8,608.2 L686.4,605.6 M695,608.2 L692.4,605.6"/>
<rect x="688.6" y="601.8" width="1.6" height="1.6" fill="none" stroke="#333" stroke-width="0.6"/>
<rect class="k" x="639" y="642.5" width="11.2" height="11.2"/>
<rect class="k" x="641.6" y="645.1" width="6" height="6"/>
<path class="k" d="M639,642.5 L641.6,645.1 M650.2,642.5 L647.6,645.1 M639,653.7 L641.6,651.1 M650.2,653.7 L647.6,651.1"/>
<rect x="643.8" y="647.3" width="1.6" height="1.6" fill="none" stroke="#333" stroke-width="0.6"/>
<rect class="k" x="683.8" y="642.5" width="11.2" height="11.2"/>
<rect class="k" x="686.4" y="645.1" width="6" height="6"/>
<path class="k" d="M683.8,642.5 L686.4,645.1 M695,642.5 L692.4,645.1 M683.8,653.7 L686.4,651.1 M695,653.7 L692.4,651.1"/>
<rect x="688.6" y="647.3" width="1.6" height="1.6" fill="none" stroke="#333" stroke-width="0.6"/>
<line x1="644.5" y1="521.5" x2="644.5" y2="597" class="d" />
<line x1="689.5" y1="521.5" x2="689.5" y2="597" class="d" />
<line x1="644.5" y1="523.8" x2="658" y2="523.8" class="d2" />
<line x1="677" y1="523.8" x2="689.5" y2="523.8" class="d2" />
<polygon points="644.5,523.8 652.5,521.4 652.5,526.2" class="ar"/>
<polygon points="689.5,523.8 681.5,526.2 681.5,521.4" class="ar"/>
<text x="667.2" y="529.5" font-size="14" text-anchor="middle" class="t" textLength="15" lengthAdjust="spacingAndGlyphs">E3</text>
<line x1="565" y1="602.6" x2="639" y2="602.6" class="d" />
<line x1="565" y1="648.1" x2="639" y2="648.1" class="d" />
<line x1="566.8" y1="602.6" x2="566.8" y2="616" class="d" />
<line x1="566.8" y1="632.5" x2="566.8" y2="648.1" class="d" />
<polygon points="566.8,602.6 569.2,610.6 564.4,610.6" class="ar"/>
<polygon points="566.8,648.1 564.4,640.1 569.2,640.1" class="ar"/>
<text x="572.5" y="624.5" font-size="14" text-anchor="middle" class="t" textLength="14" lengthAdjust="spacingAndGlyphs" transform="rotate(-90 572.5 624.5)">E3</text>
<line x1="695.1" y1="642.2" x2="769" y2="642.2" class="e" />
<line x1="695.1" y1="653.7" x2="769" y2="653.7" class="e" />
<line x1="767.2" y1="627.6" x2="767.2" y2="642.2" class="d" />
<line x1="767.2" y1="653.7" x2="767.2" y2="677" class="d" />
<polygon points="767.2,642.2 764.8,634.2 769.6,634.2" class="ar"/>
<polygon points="767.2,653.7 769.6,661.7 764.8,661.7" class="ar"/>
<text x="773.4" y="686.8" font-size="14" text-anchor="middle" class="t" textLength="19.6" lengthAdjust="spacingAndGlyphs" transform="rotate(-90 773.4 686.8)">(E4)</text>
<line x1="683.8" y1="654" x2="683.8" y2="729" class="e" />
<line x1="695.3" y1="654" x2="695.3" y2="729" class="e" />
<line x1="670" y1="726.8" x2="683.8" y2="726.8" class="d2" />
<line x1="695.3" y1="726.8" x2="716" y2="726.8" class="d2" />
<polygon points="683.8,726.8 675.8,729.2 675.8,724.4" class="ar"/>
<polygon points="695.3,726.8 703.3,724.4 703.3,729.2" class="ar"/>
<text x="725.8" y="733" font-size="14" text-anchor="middle" class="t" textLength="19.6" lengthAdjust="spacingAndGlyphs">(E4)</text>
<path class="k" d="M132.7,670.8 H365.7 V652.8 A4.6,4.6 0 0 0 361,648.2 H334 A4.6,4.6 0 0 1 329.4,643.6 L328.2,620.5 A3.3,3.3 0 0 0 324.9,617.2 H175.2 A3.6,3.6 0 0 0 171.6,620.8 L170.5,643.6 A4.6,4.6 0 0 1 165.9,648.2 H137.3 A4.6,4.6 0 0 0 132.7,652.8 Z"/>
<path class="k" d="M132.7,657.4 H365.7"/>
<path class="k" d="M198.2,657.4 L199.5,667.8 H218.1 L219.4,657.4 M278.8,657.4 L280.1,667.8 H298.2 L299.5,657.4"/>
<path class="k" d="M134.4,617.6 H364"/>
<path class="k" d="M134.4,618 L135.6,604.5 L150,597.2 L167.5,595 A3,3 0 0 1 170.5,598 L171.5,616"/>
<path class="k" d="M364,618 L362.8,604.5 L348.4,597.2 L330.9,595 A3,3 0 0 0 327.9,598 L326.9,616"/>
<path class="k" d="M134.4,618 L132.9,649"/>
<path class="k" d="M364,618 L365.5,649"/>
<path class="k" stroke-width="0.8" d="M145.8,597.5 V591 A1.4,1.4 0 0 1 148.6,591 V597"/>
<path class="k" stroke-width="0.8" d="M156.6,597.5 V591 A1.4,1.4 0 0 1 159.4,591 V597"/>
<path class="k" stroke-width="0.8" d="M338.4,597.5 V591 A1.4,1.4 0 0 1 341.2,591 V597"/>
<path class="k" stroke-width="0.8" d="M349.6,597.5 V591 A1.4,1.4 0 0 1 352.4,591 V597"/>
<path class="k" d="M174,617.2 L175,607.5 A3,3 0 0 1 178,604.5 H320.6 A3,3 0 0 1 323.6,607.5 L324.5,617.2"/>
<path class="k" d="M184.4,604.5 V599.9 H314.4 V604.5 M184.4,615.6 H314.4"/>
<path class="l" d="M137,657 L139,620 M150,657 L151,618 M160,648 L162,600 M196,670 L200,618 M228,670 L232,618 M300,670 L304,618 M330,650 L326,618 M178,612 H322 M137,613 H170 M137,645 H168 M328,613 H362 M330,645 H362 M347,657 L348,600 M355,657 L357,603 M196,651 L198,610"/>
<line x1="42.4" y1="589.6" x2="146" y2="589.6" class="d" />
<line x1="64.6" y1="600.4" x2="150" y2="600.4" class="d" />
<line x1="86.5" y1="617.6" x2="133" y2="617.6" class="d" />
<line x1="108.8" y1="657.4" x2="132" y2="657.4" class="d" />
<line x1="42.4" y1="670.6" x2="132" y2="670.6" class="d" />
<line x1="44.6" y1="589.6" x2="44.6" y2="619" class="d" />
<line x1="44.6" y1="640" x2="44.6" y2="670.6" class="d" />
<polygon points="44.6,589.6 47,599.1 42.2,599.1" class="ar"/>
<polygon points="44.6,670.6 42.2,661.1 47,661.1" class="ar"/>
<text x="49.9" y="629.6" font-size="14" text-anchor="middle" class="t" textLength="14.2" lengthAdjust="spacingAndGlyphs" transform="rotate(-90 49.9 629.6)">E5</text>
<line x1="66.7" y1="600.4" x2="66.7" y2="624" class="d" />
<line x1="66.7" y1="647" x2="66.7" y2="670.6" class="d" />
<polygon points="66.7,600.4 69.1,609.9 64.3,609.9" class="ar"/>
<polygon points="66.7,670.6 64.3,661.1 69.1,661.1" class="ar"/>
<text x="71.8" y="635.6" font-size="14" text-anchor="middle" class="t" textLength="18.4" lengthAdjust="spacingAndGlyphs" transform="rotate(-90 71.8 635.6)">C3</text>
<line x1="88.6" y1="617.6" x2="88.6" y2="634" class="d" />
<line x1="88.6" y1="654" x2="88.6" y2="670.6" class="d" />
<polygon points="88.6,617.6 91,627.1 86.2,627.1" class="ar"/>
<polygon points="88.6,670.6 86.2,661.1 91,661.1" class="ar"/>
<text x="94.8" y="644.2" font-size="14" text-anchor="middle" class="t" textLength="15" lengthAdjust="spacingAndGlyphs" transform="rotate(-90 94.8 644.2)">C1</text>
<line x1="110.9" y1="643.6" x2="110.9" y2="657.4" class="d" />
<line x1="110.9" y1="670.6" x2="110.9" y2="682" class="d" />
<polygon points="110.9,657.4 108.5,647.9 113.3,647.9" class="ar"/>
<polygon points="110.9,670.6 113.3,680.1 108.5,680.1" class="ar"/>
<text x="116.6" y="693.2" font-size="14" text-anchor="middle" class="t" textLength="18.3" lengthAdjust="spacingAndGlyphs" transform="rotate(-90 116.6 693.2)">A3</text>
<rect class="tb2" x="800.4" y="33.1" width="293.6" height="419.3"/>
<line class="tb2" x1="800.4" y1="51.6" x2="1094.0" y2="51.6"/>
<line class="tb" x1="800.4" y1="71.4" x2="1094.0" y2="71.4"/>
<line class="tb" x1="869.5" y1="51.6" x2="869.5" y2="452.4"/>
<line class="tb" x1="978.4" y1="51.6" x2="978.4" y2="452.4"/>
<line class="tb" x1="800.4" y1="90.45" x2="1094.0" y2="90.45"/>
<line class="tb" x1="800.4" y1="109.5" x2="1094.0" y2="109.5"/>
<line class="tb" x1="800.4" y1="128.55" x2="1094.0" y2="128.55"/>
<line class="tb" x1="800.4" y1="147.6" x2="1094.0" y2="147.6"/>
<line class="tb" x1="800.4" y1="166.65" x2="1094.0" y2="166.65"/>
<line class="tb" x1="800.4" y1="185.7" x2="1094.0" y2="185.7"/>
<line class="tb" x1="800.4" y1="204.75" x2="1094.0" y2="204.75"/>
<line class="tb" x1="800.4" y1="223.8" x2="1094.0" y2="223.8"/>
<line class="tb" x1="800.4" y1="242.85" x2="1094.0" y2="242.85"/>
<line class="tb" x1="800.4" y1="261.9" x2="1094.0" y2="261.9"/>
<line class="tb" x1="800.4" y1="280.95" x2="1094.0" y2="280.95"/>
<line class="tb" x1="800.4" y1="300" x2="1094.0" y2="300"/>
<line class="tb" x1="800.4" y1="319.05" x2="1094.0" y2="319.05"/>
<line class="tb" x1="800.4" y1="338.1" x2="1094.0" y2="338.1"/>
<line class="tb" x1="800.4" y1="357.15" x2="1094.0" y2="357.15"/>
<line class="tb" x1="800.4" y1="376.2" x2="1094.0" y2="376.2"/>
<line class="tb" x1="800.4" y1="395.25" x2="1094.0" y2="395.25"/>
<line class="tb" x1="800.4" y1="414.3" x2="1094.0" y2="414.3"/>
<line class="tb" x1="800.4" y1="433.35" x2="1094.0" y2="433.35"/>
<text x="947.2" y="47.7" font-size="13.6" text-anchor="middle" class="th" textLength="117.3" lengthAdjust="spacingAndGlyphs">DIMENSION TABLE</text>
<text x="835" y="65.2" font-size="10.8" text-anchor="middle" class="th2" textLength="39.8" lengthAdjust="spacingAndGlyphs">SYMBOL</text>
<text x="923.8" y="65.2" font-size="10.8" text-anchor="middle" class="th2" textLength="86.4" lengthAdjust="spacingAndGlyphs">DIMENSION (mm)</text>
<text x="1036" y="65.2" font-size="10.8" text-anchor="middle" class="th2" textLength="87" lengthAdjust="spacingAndGlyphs">TOLERANCE (mm)</text>
<text x="835" y="84.3" font-size="10.8" text-anchor="middle" class="tr">A1</text>
<text x="924" y="84.3" font-size="10.8" text-anchor="middle" class="tr">80.00</text>
<text x="1036" y="84.3" font-size="10.8" text-anchor="middle" class="tr">±0.30</text>
<text x="835" y="103.35" font-size="10.8" text-anchor="middle" class="tr">A2</text>
<text x="924" y="103.35" font-size="10.8" text-anchor="middle" class="tr">53.00</text>
<text x="1036" y="103.35" font-size="10.8" text-anchor="middle" class="tr">±0.30</text>
<text x="835" y="122.4" font-size="10.8" text-anchor="middle" class="tr">A3</text>
<text x="924" y="122.4" font-size="10.8" text-anchor="middle" class="tr">3.00</text>
<text x="1036" y="122.4" font-size="10.8" text-anchor="middle" class="tr">±0.30</text>
<text x="835" y="141.45" font-size="10.8" text-anchor="middle" class="tr">B1</text>
<text x="924" y="141.45" font-size="10.8" text-anchor="middle" class="tr">71.75</text>
<text x="1036" y="141.45" font-size="10.8" text-anchor="middle" class="tr">±0.30</text>
<text x="835" y="160.5" font-size="10.8" text-anchor="middle" class="tr">B2</text>
<text x="924" y="160.5" font-size="10.8" text-anchor="middle" class="tr">44.75</text>
<text x="1036" y="160.5" font-size="10.8" text-anchor="middle" class="tr">±0.30</text>
<text x="835" y="179.55" font-size="10.8" text-anchor="middle" class="tr">C1</text>
<text x="924" y="179.55" font-size="10.8" text-anchor="middle" class="tr">12.00</text>
<text x="1036" y="179.55" font-size="10.8" text-anchor="middle" class="tr">±0.50</text>
<text x="835" y="198.6" font-size="10.8" text-anchor="middle" class="tr">C2</text>
<text x="924" y="198.6" font-size="10.8" text-anchor="middle" class="tr">24.00</text>
<text x="1036" y="198.6" font-size="10.8" text-anchor="middle" class="tr">±0.50</text>
<text x="835" y="217.65" font-size="10.8" text-anchor="middle" class="tr">C3</text>
<text x="924" y="217.65" font-size="10.8" text-anchor="middle" class="tr">15.75</text>
<text x="1036" y="217.65" font-size="10.8" text-anchor="middle" class="tr">±0.40</text>
<text x="835" y="236.7" font-size="10.8" text-anchor="middle" class="tr">D1</text>
<text x="924" y="236.7" font-size="10.8" text-anchor="middle" class="tr">(5.50)</text>
<text x="1036" y="236.7" font-size="10.8" text-anchor="middle" class="tr">REF.</text>
<text x="835" y="255.75" font-size="10.8" text-anchor="middle" class="tr">D2</text>
<text x="924" y="255.75" font-size="10.8" text-anchor="middle" class="tr">(31.00)</text>
<text x="1036" y="255.75" font-size="10.8" text-anchor="middle" class="tr">REF.</text>
<text x="835" y="274.8" font-size="10.8" text-anchor="middle" class="tr">D3</text>
<text x="924" y="274.8" font-size="10.8" text-anchor="middle" class="tr">29.50</text>
<text x="1036" y="274.8" font-size="10.8" text-anchor="middle" class="tr">±0.30</text>
<text x="835" y="293.85" font-size="10.8" text-anchor="middle" class="tr">D4</text>
<text x="924" y="293.85" font-size="10.8" text-anchor="middle" class="tr">(12.50) TYP</text>
<text x="1036" y="293.85" font-size="10.8" text-anchor="middle" class="tr">REF.</text>
<text x="835" y="312.9" font-size="10.8" text-anchor="middle" class="tr">D5</text>
<text x="924" y="312.9" font-size="10.8" text-anchor="middle" class="tr">12.50</text>
<text x="1036" y="312.9" font-size="10.8" text-anchor="middle" class="tr">±0.30</text>
<text x="835" y="331.95" font-size="10.8" text-anchor="middle" class="tr">D6</text>
<text x="924" y="331.95" font-size="10.8" text-anchor="middle" class="tr">1.50</text>
<text x="1036" y="331.95" font-size="10.8" text-anchor="middle" class="tr">±0.30</text>
<text x="835" y="351" font-size="10.8" text-anchor="middle" class="tr">E1</text>
<text x="924" y="351" font-size="10.8" text-anchor="middle" class="tr">(13.50)</text>
<text x="1036" y="351" font-size="10.8" text-anchor="middle" class="tr">REF.</text>
<text x="835" y="370.05" font-size="10.8" text-anchor="middle" class="tr">E2</text>
<text x="924" y="370.05" font-size="10.8" text-anchor="middle" class="tr">44.00</text>
<text x="1036" y="370.05" font-size="10.8" text-anchor="middle" class="tr">±0.30</text>
<text x="835" y="389.1" font-size="10.8" text-anchor="middle" class="tr">E3</text>
<text x="924" y="389.1" font-size="10.8" text-anchor="middle" class="tr">2.54</text>
<text x="1036" y="389.1" font-size="10.8" text-anchor="middle" class="tr">±0.50</text>
<text x="835" y="408.15" font-size="10.8" text-anchor="middle" class="tr">E4</text>
<text x="924" y="408.15" font-size="10.8" text-anchor="middle" class="tr">(0.64)</text>
<text x="1036" y="408.15" font-size="10.8" text-anchor="middle" class="tr">REF.</text>
<text x="835" y="427.2" font-size="10.8" text-anchor="middle" class="tr">E5</text>
<text x="924" y="427.2" font-size="10.8" text-anchor="middle" class="tr">18.26</text>
<text x="1036" y="427.2" font-size="10.8" text-anchor="middle" class="tr">±0.30</text>
<text x="835" y="446.25" font-size="10.8" text-anchor="middle" class="tr">E6</text>
<text x="924" y="446.25" font-size="10.8" text-anchor="middle" class="tr">(17.00)</text>
<text x="1036" y="446.25" font-size="10.8" text-anchor="middle" class="tr">REF.</text>
</svg></body></html>
